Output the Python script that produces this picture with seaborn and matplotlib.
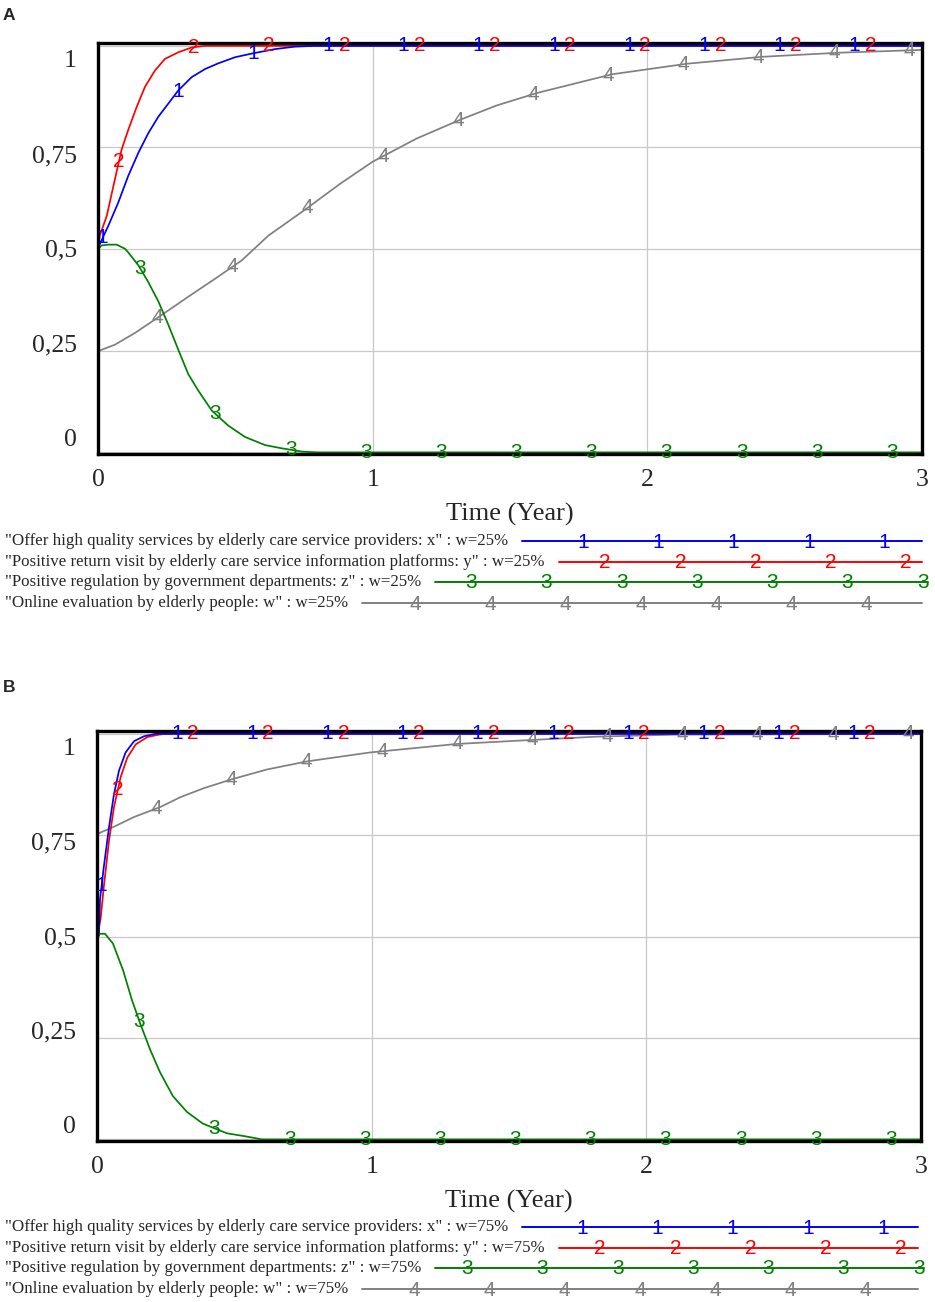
import numpy as np
import pandas as pd
import matplotlib
matplotlib.use("Agg")
import matplotlib.pyplot as plt
import seaborn as sns

# ---------------- data ----------------
series_names = ["x", "y", "z", "w"]
series_colors = ["#0000ff", "#ff0000", "#008000", "#808080"]

# Panel A (w = 25%)
tA_x = [0, 0.007, 0.038, 0.074, 0.11, 0.147, 0.183, 0.22, 0.256, 0.292, 0.341, 0.39,
        0.438, 0.499, 0.56, 0.644, 0.717, 0.79, 3.0]
vA_x = [0.505, 0.513, 0.558, 0.615, 0.68, 0.737, 0.785, 0.826, 0.858, 0.89, 0.923, 0.943,
        0.957, 0.972, 0.981, 0.992, 0.998, 1.0, 1.0]
tA_y = [0, 0.007, 0.032, 0.056, 0.086, 0.11, 0.141, 0.171, 0.207, 0.244, 0.292, 0.341,
        0.39, 3.0]
vA_y = [0.51, 0.534, 0.582, 0.655, 0.745, 0.793, 0.85, 0.899, 0.939, 0.968, 0.984, 0.996,
        1.0, 1.0]
tA_z = [0, 0.013, 0.038, 0.068, 0.098, 0.11, 0.147, 0.183, 0.22, 0.256, 0.292, 0.329,
        0.365, 0.414, 0.474, 0.535, 0.608, 0.669, 0.742, 0.8, 3.0]
vA_z = [0.5, 0.509, 0.511, 0.511, 0.501, 0.492, 0.46, 0.419, 0.371, 0.314, 0.253, 0.192,
        0.152, 0.103, 0.066, 0.038, 0.018, 0.01, 0.002, 0.0, 0.0]
tA_w = [0, 0.062, 0.135, 0.232, 0.329, 0.426, 0.523, 0.62, 0.76, 0.88, 1.0, 1.16, 1.318,
        1.45, 1.598, 1.871, 2.144, 2.417, 2.694, 3.0]
vA_w = [0.249, 0.265, 0.294, 0.338, 0.383, 0.427, 0.472, 0.533, 0.6, 0.66, 0.715, 0.772,
        0.818, 0.853, 0.884, 0.93, 0.956, 0.973, 0.983, 0.99]

# Panel B (w = 75%)
tB_x = [0, 0.007, 0.011, 0.025, 0.044, 0.062, 0.08, 0.104, 0.135, 0.171, 0.213, 3.0]
vB_x = [0.5, 0.502, 0.592, 0.673, 0.771, 0.852, 0.909, 0.954, 0.982, 0.994, 1.0, 1.0]
tB_y = [0, 0.013, 0.025, 0.044, 0.062, 0.086, 0.11, 0.141, 0.183, 0.225, 0.25, 3.0]
vB_y = [0.5, 0.543, 0.624, 0.738, 0.82, 0.893, 0.941, 0.974, 0.992, 0.998, 1.0, 1.0]
tB_z = [0, 0.01, 0.029, 0.058, 0.095, 0.127, 0.156, 0.193, 0.229, 0.276, 0.327, 0.385,
        0.473, 0.545, 0.6, 3.0]
vB_z = [0.5, 0.507, 0.507, 0.483, 0.417, 0.344, 0.288, 0.222, 0.166, 0.107, 0.068, 0.039,
        0.015, 0.007, 0.0, 0.0]
tB_w = [0, 0.062, 0.135, 0.232, 0.304, 0.389, 0.491, 0.618, 0.764, 0.993, 1.309, 1.585,
        1.818, 2.1, 3.0]
vB_w = [0.753, 0.771, 0.795, 0.82, 0.844, 0.866, 0.888, 0.912, 0.932, 0.954, 0.975, 0.985,
        0.993, 0.998, 1.0]

x_ticks = [0, 1, 2, 3]
x_tick_labels = ["0", "1", "2", "3"]
y_ticks = [0, 0.25, 0.5, 0.75, 1.0]
y_tick_labels = ["0", "0,25", "0,5", "0,75", "1"]
x_label = "Time (Year)"

legend_A = [
    '"Offer high quality services by elderly care service providers: x" : w=25%',
    '"Positive return visit by elderly care service information platforms: y" : w=25%',
    '"Positive regulation by government departments: z" : w=25%',
    '"Online evaluation by elderly people: w" : w=25%',
]
legend_B = [
    '"Offer high quality services by elderly care service providers: x" : w=75%',
    '"Positive return visit by elderly care service information platforms: y" : w=75%',
    '"Positive regulation by government departments: z" : w=75%',
    '"Online evaluation by elderly people: w" : w=75%',
]

# ---------------- style ----------------
sns.set_style("white")
plt.rcParams["font.family"] = ["Liberation Serif", "DejaVu Serif"]

W, H = 935, 1302
fig = plt.figure(figsize=(W / 100, H / 100), dpi=100)


def px_rect(x0, y0, x1, y1):
    return [x0 / W, 1 - y1 / H, (x1 - x0) / W, (y1 - y0) / H]


axA = fig.add_axes(px_rect(98, 43, 922, 454))
axB = fig.add_axes(px_rect(97, 731, 921, 1141))
overlay = fig.add_axes([0, 0, 1, 1], zorder=-5)
overlay.set_xlim(0, W)
overlay.set_ylim(H, 0)
overlay.axis("off")

marker_offsets = [0.017, 0.076, 0.154, 0.216]
marker_step = 0.2737
NUM_FONT = ["Liberation Sans", "DejaVu Sans"]
NUM_SIZE = 15
palette = dict(zip(series_names, series_colors))
draw_order = ["w", "y", "x", "z"]


def draw_panel(ax, data):
    frames = []
    for name, (t, v) in zip(series_names, data):
        frames.append(pd.DataFrame({"t": t, "v": v, "s": name}))
    df = pd.concat(frames, ignore_index=True)
    sns.lineplot(data=df, x="t", y="v", hue="s", hue_order=draw_order,
                 palette=palette, estimator=None, sort=False,
                 legend=False, lw=1.25, ax=ax)
    ax.set_xlim(0, 3)
    ax.set_ylim(-0.004, 1.007)
    ax.set_xticks(x_ticks)
    ax.set_xticklabels(x_tick_labels, fontsize=18.5)
    ax.set_yticks(y_ticks)
    ax.set_yticklabels([])
    ax.tick_params(length=0, pad=10.5)
    ax.grid(True, color="#c8c8c8", lw=0.9)
    for sp in ax.spines.values():
        sp.set_color("black")
        sp.set_linewidth(2.4)
    ax.set_ylabel("")
    ax.set_xlabel(x_label, fontsize=19)
    ax.xaxis.set_label_coords(0.5, -0.147)
    ax.xaxis.label.set_va("center")
    for v, lab in zip(y_ticks, y_tick_labels):
        ax.text(-0.0255, 0.035 + 0.92 * v, lab, transform=ax.transAxes,
                ha="right", va="center", fontsize=18.5)
    for i, (t, v) in enumerate(data):
        xs = np.arange(marker_offsets[i], 3.0001, marker_step)
        ys = np.interp(xs, t, v)
        for xm, ym in zip(xs, ys):
            ax.text(xm, ym, str(i + 1), color=series_colors[i], fontsize=NUM_SIZE,
                    family=NUM_FONT, ha="center", va="center", clip_on=False,
                    zorder=5)


draw_panel(axA, [(tA_x, vA_x), (tA_y, vA_y), (tA_z, vA_z), (tA_w, vA_w)])
draw_panel(axB, [(tB_x, vB_x), (tB_y, vB_y), (tB_z, vB_z), (tB_w, vB_w)])

# panel letters
overlay.text(3, 15, "A", fontsize=12.5, fontweight="bold", family=NUM_FONT,
             ha="left", va="center")
overlay.text(3, 687, "B", fontsize=12.5, fontweight="bold", family=NUM_FONT,
             ha="left", va="center")

# legends (layout in pixel coordinates)
rows_A_y = [541, 562, 582, 603]
rows_B_y = [1227, 1248, 1268, 1289]
first_mark_A = [583, 605, 471, 415]
first_mark_B = [582, 600, 467, 414]
line_end = [922, 922, 928, 922]
mark_step_px = 75.3

fig.canvas.draw()
renderer = fig.canvas.get_renderer()


def draw_legend(texts, rows_y, first_marks, end_shift):
    for i, (txt, yy) in enumerate(zip(texts, rows_y)):
        t = overlay.text(5, yy, txt, fontsize=12.17, ha="left", va="center")
        bb = t.get_window_extent(renderer)
        x_start = bb.x1 + 14
        x_end = line_end[i] + end_shift
        overlay.plot([x_start, x_end], [yy, yy], color=series_colors[i], lw=1.4)
        xm = first_marks[i]
        while xm <= x_end + 4:
            if xm > x_start:
                overlay.text(xm, yy + 1, str(i + 1), color=series_colors[i],
                             fontsize=NUM_SIZE, family=NUM_FONT, ha="center",
                             va="center")
            xm += mark_step_px


draw_legend(legend_A, rows_A_y, first_mark_A, 0)
draw_legend(legend_B, rows_B_y, first_mark_B, -4)

fig.savefig("out.png", dpi=100)
